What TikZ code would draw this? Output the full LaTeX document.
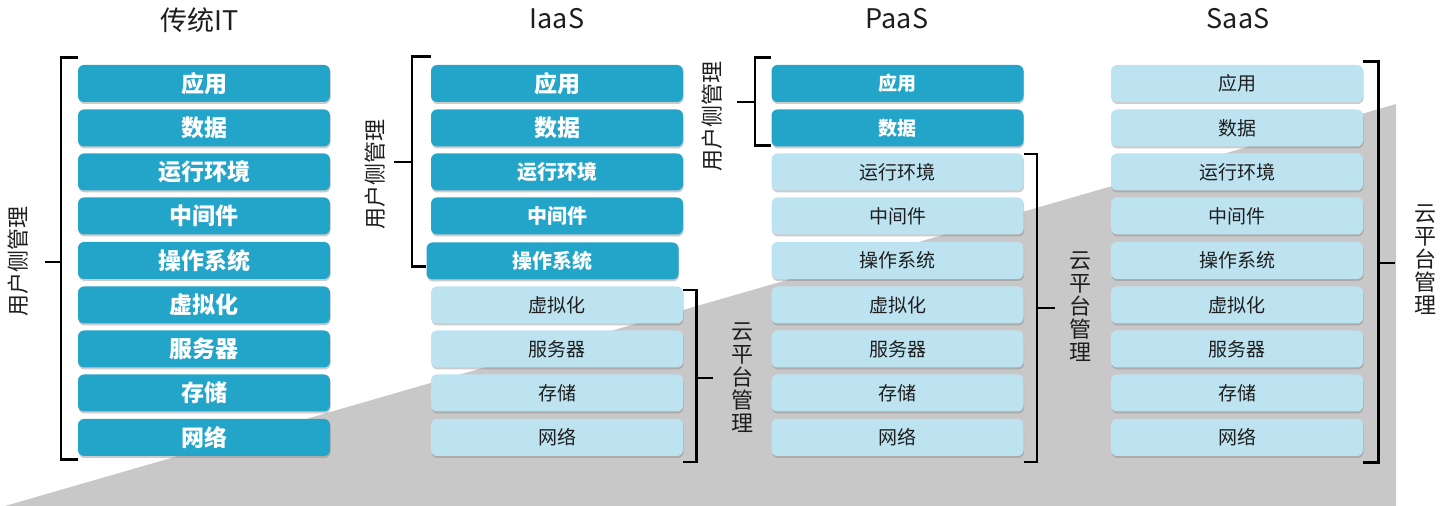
\documentclass[tikz,border=0pt]{standalone}
\usepackage{fontspec}
\setmainfont{Noto Sans CJK SC}
\usetikzlibrary{positioning,shadows}

\definecolor{layerdark}{HTML}{23A4C9}
\definecolor{layerlight}{HTML}{BDE3F1}
\definecolor{cloudgray}{HTML}{C8C8C8}
\definecolor{labeltext}{HTML}{1E1E1E}

\begin{document}
\begin{tikzpicture}[x=0.5pt,y=-0.5pt]
\tikzset{
  layer/.style={rectangle,rounded corners=3pt,minimum width=126pt,minimum height=18.5pt,inner sep=0pt,
    drop shadow={shadow xshift=0.3pt,shadow yshift=-1pt,opacity=0.4}},
  userbig/.style={layer,fill=layerdark,text=white,font=\fontsize{11.5}{12}\selectfont\bfseries},
  usermid/.style={layer,fill=layerdark,text=white,font=\fontsize{10}{11}\selectfont\bfseries},
  usersmall/.style={layer,fill=layerdark,text=white,font=\fontsize{9.5}{10}\selectfont\bfseries},
  cloudlayer/.style={layer,fill=layerlight,text=labeltext,font=\fontsize{9.5}{10}\selectfont},
  coltitle/.style={text=labeltext,font=\fontsize{13.5}{14}\selectfont},
  userlabel/.style={rotate=90,text=labeltext,font=\fontsize{11}{12}\selectfont},
  cloudlabel/.style={align=center,text=labeltext,font=\fontsize{11}{11.5}\selectfont},
  bracket/.style={line width=1.1pt,black}
}
\useasboundingbox (0,0) rectangle (1440,506);
% grey wedge behind the stacks
\fill[cloudgray] (5,506) -- (1396,104) -- (1396,506) -- cycle;

% column titles
\node[coltitle] (h_it) at (200,20) {传统IT};
\node[coltitle] (h_iaas) at (557,19) {IaaS};
\node[coltitle] (h_paas) at (897,19) {PaaS};
\node[coltitle] (h_saas) at (1238,19) {SaaS};

% traditional IT
\node[userbig] (t1) at (204,83.5) {应用};
\node[userbig] (t2) at (204,128) {数据};
\node[userbig] (t3) at (204,172) {运行环境};
\node[userbig] (t4) at (204,216) {中间件};
\node[userbig] (t5) at (204,260.5) {操作系统};
\node[userbig] (t6) at (204,305) {虚拟化};
\node[userbig] (t7) at (204,349) {服务器};
\node[userbig] (t8) at (204,393) {存储};
\node[userbig] (t9) at (204,437.5) {网络};

% IaaS
\node[userbig] (i1) at (557,83.5) {应用};
\node[userbig] (i2) at (557,128) {数据};
\node[usermid] (i3) at (557,172) {运行环境};
\node[usermid] (i4) at (557,216) {中间件};
\node[usermid] (i5) at (552.5,261) {操作系统};
\node[cloudlayer] (i6) at (557,305) {虚拟化};
\node[cloudlayer] (i7) at (557,349) {服务器};
\node[cloudlayer] (i8) at (557,393) {存储};
\node[cloudlayer] (i9) at (557,437.5) {网络};

% PaaS
\node[usersmall] (p1) at (897.5,83.5) {应用};
\node[usersmall] (p2) at (897.5,128) {数据};
\node[cloudlayer] (p3) at (897.5,172) {运行环境};
\node[cloudlayer] (p4) at (897.5,216) {中间件};
\node[cloudlayer] (p5) at (897.5,260.5) {操作系统};
\node[cloudlayer] (p6) at (897.5,305) {虚拟化};
\node[cloudlayer] (p7) at (897.5,349) {服务器};
\node[cloudlayer] (p8) at (897.5,393) {存储};
\node[cloudlayer] (p9) at (897.5,437.5) {网络};

% SaaS
\node[cloudlayer] (s1) at (1237,83.5) {应用};
\node[cloudlayer] (s2) at (1237,128) {数据};
\node[cloudlayer] (s3) at (1237,172) {运行环境};
\node[cloudlayer] (s4) at (1237,216) {中间件};
\node[cloudlayer] (s5) at (1237,260.5) {操作系统};
\node[cloudlayer] (s6) at (1237,305) {虚拟化};
\node[cloudlayer] (s7) at (1237,349) {服务器};
\node[cloudlayer] (s8) at (1237,393) {存储};
\node[cloudlayer] (s9) at (1237,437.5) {网络};

% side labels
\node[userlabel] (u_it) at (18,262) {用户侧管理};
\node[userlabel] (u_iaas) at (375,175) {用户侧管理};
\node[userlabel] (u_paas) at (712,117) {用户侧管理};
\node[cloudlabel] (c_iaas) at (742,378) {云\\平\\台\\管\\理};
\node[cloudlabel] (c_paas) at (1080,307) {云\\平\\台\\管\\理};
\node[cloudlabel] (c_saas) at (1425,260) {云\\平\\台\\管\\理};

% brackets
\draw[bracket] (t1.north west) ++(0,-7) -- ++(-17,0) -- ++(0,402) -- ++(17,0);
\draw[bracket] (t5.west) ++(-17,1.5) -- ++(-16,0);
\draw[bracket] (i1.north west) ++(0,-8) -- ++(-19,0) -- ++(0,210) -- ++(14,0);
\draw[bracket] (i3.west) ++(-19,-10) -- ++(-18,0);
\draw[bracket] (i6.north east) ++(0,4) -- ++(13,0) -- ++(0,172) -- ++(-13,0);
\draw[bracket] (i8.east) ++(13,-15) -- ++(17,0);
\draw[bracket] (p1.north west) ++(0,-7) -- ++(-16,0) -- ++(0,88) -- ++(16,0);
\draw[bracket] (p1.west) ++(-16,18.5) -- ++(-18,0);
\draw[bracket] (p3.north east) ++(0,1) -- ++(13,0) -- ++(0,308) -- ++(-13,0);
\draw[bracket] (p6.east) ++(13,3) -- ++(18,0);
\draw[bracket] (s1.north east) ++(0,-3) -- ++(15,0) -- ++(0,401) -- ++(-15,0);
\draw[bracket] (s5.east) ++(15,2.5) -- ++(17,0);
\end{tikzpicture}
\end{document}
